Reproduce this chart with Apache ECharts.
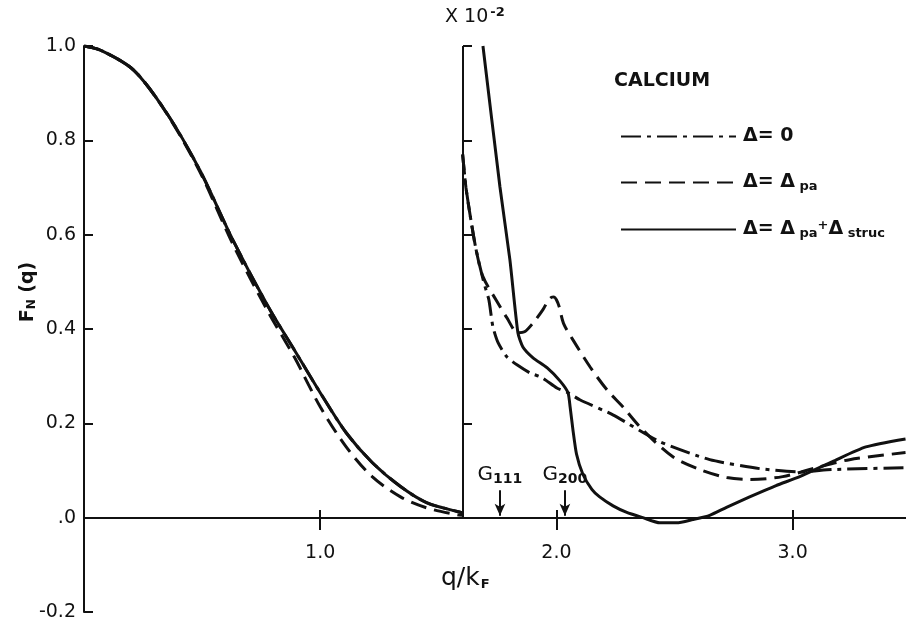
<!DOCTYPE html>
<html>
<head>
<meta charset="utf-8">
<script src="https://cdn.jsdelivr.net/npm/echarts@6/dist/echarts.min.js"></script>
<style>
html, body { margin: 0; padding: 0; background: #fff; }
#chart { width: 906px; height: 627px; }
</style>
</head>
<body>
<div id="chart"></div>
<script>
// left part, q < 1.6 (plain scale)
var leftQ = [0, 0.07, 0.21, 0.35, 0.49, 0.63, 0.78, 0.89, 1.0, 1.11, 1.22, 1.34, 1.45, 1.58, 1.603];
var solidLeft = [1.0, 0.991, 0.949, 0.858, 0.737, 0.589, 0.447, 0.356, 0.265, 0.180, 0.117, 0.066, 0.032, 0.013, 0.010];
var dashLeft = [1.0, 0.991, 0.949, 0.857, 0.734, 0.580, 0.436, 0.341, 0.235, 0.150, 0.087, 0.044, 0.021, 0.006, 0.005];

// right part, q > 1.6 (values x 10^-2)
var zeroQ = [1.603, 1.617, 1.638, 1.66, 1.693, 1.714, 1.731, 1.753, 1.79, 1.833, 1.888, 1.939, 2.002, 2.049, 2.099, 2.239, 2.438, 2.649, 2.86, 3.03, 3.169, 3.478];
var zeroF = [0.77, 0.70, 0.631, 0.568, 0.498, 0.462, 0.405, 0.371, 0.341, 0.324, 0.307, 0.297, 0.275, 0.265, 0.25, 0.218, 0.161, 0.123, 0.104, 0.097, 0.102, 0.106];

var paQ = [1.603, 1.617, 1.638, 1.66, 1.689, 1.744, 1.79, 1.837, 1.865, 1.90, 1.943, 1.962, 1.978, 1.99, 2.0, 2.012, 2.03, 2.07, 2.142, 2.214, 2.281, 2.366, 2.493, 2.607, 2.721, 2.818, 2.958, 3.101, 3.241, 3.478];
var paF = [0.77, 0.70, 0.631, 0.568, 0.511, 0.462, 0.424, 0.392, 0.394, 0.412, 0.441, 0.458, 0.467, 0.468, 0.462, 0.447, 0.412, 0.377, 0.320, 0.271, 0.235, 0.186, 0.129, 0.102, 0.085, 0.081, 0.087, 0.106, 0.123, 0.138];

var structQ = [1.689, 1.761, 1.803, 1.837, 1.858, 1.901, 1.960, 2.015, 2.049, 2.058, 2.07, 2.085, 2.112, 2.15, 2.183, 2.24, 2.298, 2.366, 2.438, 2.509, 2.577, 2.649, 2.72, 2.818, 2.93, 3.03, 3.169, 3.31, 3.478];
var structF = [1.0, 0.701, 0.547, 0.392, 0.362, 0.339, 0.318, 0.290, 0.265, 0.235, 0.186, 0.135, 0.092, 0.060, 0.044, 0.025, 0.011, 0.0, -0.011, -0.011, -0.004, 0.005, 0.022, 0.044, 0.068, 0.087, 0.119, 0.150, 0.167];

var yTicks = [-0.2, 0, 0.2, 0.4, 0.6, 0.8, 1.0];
var xTicks = [1.0, 2.0, 3.0];
var breakQ = 1.603;
var gLines = [['G111', 1.761], ['G200', 2.036]];

function pairs(xs, ys) {
	return xs.map(function (x, i) { return [x, ys[i]]; });
}

var ink = '#111';
var font = 'DejaVu Sans';
var dashDot = [20, 6, 4, 6];
var dashed = [16, 8];
var zeroOffset = -94; // x axis sits on F = 0, not at the grid bottom

var names = {
	zero: '\u0394= 0',
	pa: '\u0394= \u0394pa',
	st: '\u0394= \u0394pa+\u0394struc'
};

var chart = echarts.init(document.getElementById('chart'));
chart.setOption({
	animation: false,
	backgroundColor: '#fff',
	color: [ink],
	grid: {
		left: 84,
		right: 0,
		top: 46,
		bottom: 15,
		outerBoundsMode: 'none'
	},

	//x轴 (two copies so the ticks cross the line)
	xAxis: [{
		type: 'value',
		min: 0,
		max: 3.48,
		position: 'bottom',
		offset: zeroOffset,
		axisLine: { onZero: false, lineStyle: { color: ink, width: 2 } },
		axisTick: { show: true, inside: false, length: 12, customValues: xTicks, lineStyle: { color: ink, width: 2 } },
		axisLabel: {
			customValues: xTicks,
			margin: 26,
			color: ink,
			fontSize: 19,
			fontFamily: font,
			formatter: function (v) { return v.toFixed(1); }
		},
		splitLine: { show: false }
	}, {
		type: 'value',
		min: 0,
		max: 3.48,
		position: 'bottom',
		offset: zeroOffset,
		axisLine: { onZero: false, lineStyle: { color: ink, width: 2 } },
		axisTick: { show: true, inside: true, length: 8, customValues: xTicks, lineStyle: { color: ink, width: 2 } },
		axisLabel: { show: false },
		splitLine: { show: false }
	}],

	//y轴
	yAxis: [{
		type: 'value',
		min: -0.2,
		max: 1.0,
		interval: 0.2,
		axisLine: { show: true, onZero: false, lineStyle: { color: ink, width: 2 } },
		axisTick: { show: true, inside: true, length: 9, lineStyle: { color: ink, width: 2 } },
		axisLabel: {
			color: ink,
			fontSize: 19,
			fontFamily: font,
			margin: 8,
			formatter: function (v) {
				if (Math.abs(v) < 1e-9) return '.0';
				return v.toFixed(1);
			}
		},
		splitLine: { show: false }
	}, {
		// ticks on the x10^-2 line
		type: 'value',
		min: -0.2,
		max: 1.0,
		interval: 0.2,
		position: 'left',
		offset: -(463 - 84),
		axisLine: { show: false, onZero: false },
		axisTick: { show: true, inside: true, length: 9, customValues: [0.2, 0.4, 0.6, 0.8, 1.0], lineStyle: { color: ink, width: 2 } },
		axisLabel: { show: false },
		splitLine: { show: false }
	}],

	legend: {
		orient: 'vertical',
		left: 615,
		top: 122,
		itemWidth: 115,
		itemHeight: 20,
		itemGap: 26,
		itemStyle: { opacity: 0 },
		data: [names.zero, names.pa, names.st],
		formatter: function (name) {
			if (name === names.zero) return '{m|\u0394= 0}';
			if (name === names.pa) return '{m|\u0394= \u0394}{s| pa}';
			return '{m|\u0394= \u0394}{s| pa}{p|+}{m|\u0394}{s| struc}';
		},
		textStyle: {
			color: ink,
			fontFamily: font,
			padding: [0, 0, 0, 2],
			rich: {
				m: { fontSize: 19, fontFamily: font, color: ink, lineHeight: 22, fontWeight: 'bold' },
				s: { fontSize: 13, fontFamily: font, color: ink, lineHeight: 22, fontWeight: 'bold', padding: [8, 0, 0, 0] },
				p: { fontSize: 13, fontFamily: font, color: ink, lineHeight: 22, fontWeight: 'bold', padding: [0, 0, 8, 0] }
			}
		}
	},

	graphic: [{
		type: 'text',
		left: 445,
		top: 6,
		style: {
			text: '{a|X 10}{b|-2}',
			fill: ink,
			rich: {
				a: { fontSize: 19, fontFamily: font, fill: ink, lineHeight: 24 },
				b: { fontSize: 13, fontFamily: font, fill: ink, fontWeight: 'bold', padding: [0, 0, 10, 2] }
			}
		}
	}, {
		type: 'text',
		left: 614,
		top: 72,
		style: { text: 'CALCIUM', fill: ink, fontSize: 19, fontFamily: font, fontWeight: 'bold' }
	}, {
		type: 'text',
		x: 28,
		y: 292,
		rotation: Math.PI / 2,
		style: {
			text: '{a|F}{b|N}{a| (q)}',
			fill: ink,
			align: 'center',
			verticalAlign: 'middle',
			rich: {
				a: { fontSize: 19, fontFamily: font, fill: ink, fontWeight: 'bold', lineHeight: 24 },
				b: { fontSize: 12, fontFamily: font, fill: ink, fontWeight: 'bold', padding: [8, 0, 0, 0] }
			}
		}
	}, {
		type: 'text',
		left: 441,
		top: 566,
		style: {
			text: '{a|q/k}{b|F}',
			fill: ink,
			rich: {
				a: { fontSize: 25, fontFamily: font, fill: ink, lineHeight: 30 },
				b: { fontSize: 13, fontFamily: font, fill: ink, fontWeight: 'bold', padding: [12, 0, 0, 1] }
			}
		}
	}],

	series: [{
		name: names.zero,
		type: 'line',
		data: pairs(leftQ, solidLeft),
		smooth: 0.3,
		symbol: 'none',
		lineStyle: { color: ink, width: 3, type: dashDot }
	}, {
		name: names.pa,
		type: 'line',
		data: pairs(leftQ, dashLeft),
		smooth: 0.3,
		symbol: 'none',
		lineStyle: { color: ink, width: 3, type: dashed }
	}, {
		name: names.st,
		type: 'line',
		data: pairs(leftQ, solidLeft),
		smooth: 0.3,
		symbol: 'none',
		lineStyle: { color: ink, width: 3, type: 'solid' }
	}, {
		name: names.zero,
		type: 'line',
		data: pairs(zeroQ, zeroF),
		smooth: 0.2,
		symbol: 'none',
		lineStyle: { color: ink, width: 3, type: dashDot }
	}, {
		name: names.pa,
		type: 'line',
		data: pairs(paQ, paF),
		smooth: 0.3,
		symbol: 'none',
		lineStyle: { color: ink, width: 3, type: dashed }
	}, {
		name: names.st,
		type: 'line',
		data: pairs(structQ, structF),
		smooth: 0.2,
		symbol: 'none',
		lineStyle: { color: ink, width: 3, type: 'solid' },
		markLine: {
			silent: true,
			symbol: 'none',
			label: { show: false },
			lineStyle: { color: ink, width: 2, type: 'solid' },
			data: [[{ coord: [breakQ, 0] }, { coord: [breakQ, 1.0] }]]
		}
	}, {
		// G arrows
		type: 'line',
		data: [],
		markLine: {
			silent: true,
			symbol: ['none', 'arrow'],
			symbolSize: [8, 12],
			lineStyle: { color: ink, width: 2, type: 'solid' },
			label: {
				show: true,
				position: 'start',
				distance: 4,
				formatter: function (p) { return '{g|G}{n|' + p.name.slice(1) + '}'; },
				rich: {
					g: { fontSize: 20, fontFamily: font, color: ink, lineHeight: 24 },
					n: { fontSize: 14, fontFamily: font, color: ink, fontWeight: 'bold', padding: [10, 0, 0, 0] }
				}
			},
			data: gLines.map(function (g) {
				return [{ name: g[0], coord: [g[1], 0.058] }, { coord: [g[1], 0.004] }];
			})
		}
	}]
});
</script>
</body>
</html>
